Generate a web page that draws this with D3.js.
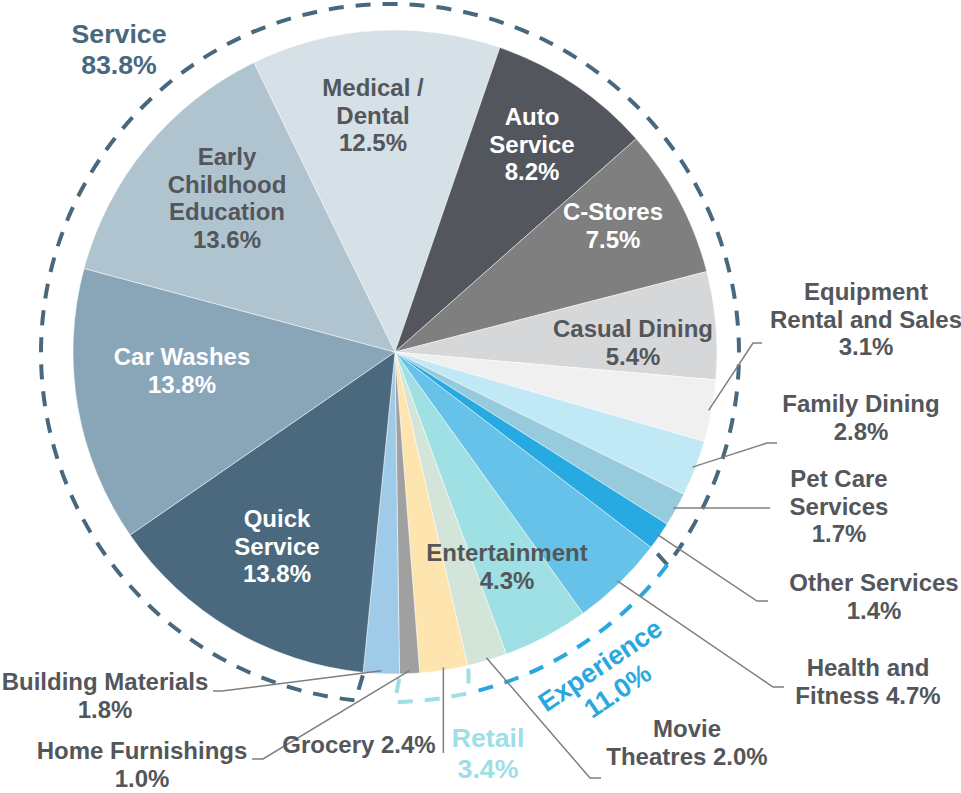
<!DOCTYPE html>
<html>
<head>
<meta charset="utf-8">
<script src="https://cdn.jsdelivr.net/npm/d3@7/dist/d3.min.js"></script>
<style>
  html, body { margin: 0; padding: 0; background: #fff; }
  svg { display: block; font-family: "Liberation Sans", Arial, sans-serif; font-weight: bold; }
</style>
</head>
<body>
<div id="chart"></div>
<script>
// slice order is clockwise, starting with Medical / Dental
const categories = [
  'Medical / Dental', 'Auto Service', 'C-Stores', 'Casual Dining',
  'Equipment Rental and Sales', 'Family Dining', 'Pet Care Services', 'Other Services',
  'Health and Fitness', 'Entertainment', 'Movie Theatres',
  'Grocery', 'Home Furnishings', 'Building Materials',
  'Quick Service', 'Car Washes', 'Early Childhood Education',
];
const shares = [12.5, 8.2, 7.5, 5.4, 3.1, 2.8, 1.7, 1.4, 4.7, 4.3, 2.0, 2.4, 1.0, 1.8, 13.8, 13.8, 13.6];
const sliceColors = [
  '#d5e0e7', '#53565c', '#7f7f7f', '#d6d7d9',
  '#f0f0f0', '#c0e9f5', '#96cadd', '#27a9e1',
  '#66c2e8', '#9ee0e3', '#d3e5d8',
  '#fee4ae', '#a0a0a0', '#a0cbe8',
  '#4a697e', '#89a6b8', '#b0c4d0',
];

const groupNames = ['Service', 'Experience', 'Retail'];
const groupShares = [83.8, 11.0, 3.4];
const groupFirst = ['Quick Service', 'Health and Fitness', 'Grocery'];
const groupLast = ['Other Services', 'Movie Theatres', 'Home Furnishings'];
const groupColors = ['#48687e', '#29a8e0', '#9ddfe5'];

const width = 961;
const height = 793;
const cx = 395;
const cy = 352;
const radius = 322;
const startAngle = (-26 * Math.PI) / 180;
const gray = '#53565a';
const fmt = (v) => `${d3.format('.1f')(v)}%`;

// label placement (first baseline, lines, leader elbows)
const labelLayout = {
  'Medical / Dental': { x: 373, y: 96, lines: ['Medical /', 'Dental'], fill: gray },
  'Auto Service': { x: 532, y: 125, lines: ['Auto', 'Service'], fill: '#fff' },
  'C-Stores': { x: 613, y: 220, lines: ['C-Stores'], fill: '#fff' },
  'Casual Dining': { x: 633, y: 337, lines: ['Casual Dining'], fill: gray },
  'Equipment Rental and Sales': {
    x: 866, y: 300, lines: ['Equipment', 'Rental and Sales'], fill: gray, leader: [[753, 343], [762, 343]],
  },
  'Family Dining': { x: 861, y: 412, lines: ['Family Dining'], fill: gray, leader: [[767, 443], [777, 443]] },
  'Pet Care Services': { x: 839, y: 487, lines: ['Pet Care', 'Services'], fill: gray, leader: [[770, 508]] },
  'Other Services': { x: 874, y: 591, lines: ['Other Services'], fill: gray, leader: [[757, 601], [768, 601]] },
  'Health and Fitness': {
    x: 868, y: 676, lines: ['Health and', 'Fitness'], inline: true, fill: gray, leader: [[773, 687], [784, 687]],
  },
  Entertainment: { x: 507, y: 561, lines: ['Entertainment'], fill: gray },
  'Movie Theatres': {
    x: 687, y: 737, lines: ['Movie', 'Theatres'], inline: true, fill: gray, leader: [[590, 778], [601, 778]],
  },
  Grocery: { x: 359, y: 753, lines: ['Grocery'], inline: true, fill: gray, drop: 753 },
  'Home Furnishings': { x: 142, y: 759, lines: ['Home Furnishings'], fill: gray, leader: [[263, 759], [252, 759]] },
  'Building Materials': { x: 105, y: 690, lines: ['Building Materials'], fill: gray, leader: [[222, 691], [213, 691]] },
  'Quick Service': { x: 277, y: 527, lines: ['Quick', 'Service'], fill: '#fff' },
  'Car Washes': { x: 182, y: 365, lines: ['Car Washes'], fill: '#fff' },
  'Early Childhood Education': { x: 227, y: 165, lines: ['Early', 'Childhood', 'Education'], fill: gray },
};

const svg = d3.select('#chart')
  .append('svg')
  .attr('width', width)
  .attr('height', height)
  .attr('viewBox', [0, 0, width, height]);

const pie = d3.pie()
  .sort(null)
  .value((d) => d)
  .startAngle(startAngle)
  .endAngle(startAngle + 2 * Math.PI);
const arcs = pie(shares);
const arc = d3.arc().innerRadius(0).outerRadius(radius);

svg.append('g')
  .attr('transform', `translate(${cx},${cy})`)
  .selectAll('path')
  .data(arcs)
  .join('path')
  .attr('d', arc)
  .attr('fill', (d, i) => sliceColors[i])
  .attr('stroke', 'rgba(255,255,255,0.6)')
  .attr('stroke-width', 0.8);

const polar = (x0, y0, r, a) => [x0 + r * Math.sin(a), y0 - r * Math.cos(a)];

// group brackets (dashed)
const bx = cx - 5;
const by = cy + 1;
const bracketR = 349;
const withTicks = [true, false, true];
const brackets = svg.append('g').attr('fill', 'none');
groupNames.forEach((name, gi) => {
  const a0 = arcs[categories.indexOf(groupFirst[gi])].startAngle;
  let a1 = arcs[categories.indexOf(groupLast[gi])].endAngle;
  if (a1 < a0) a1 += 2 * Math.PI;
  const p = d3.path();
  const s = polar(bx, by, bracketR, a0);
  if (withTicks[gi]) {
    const si = polar(cx, cy, radius + 3, a0);
    p.moveTo(si[0], si[1]);
    p.lineTo(s[0], s[1]);
  } else {
    p.moveTo(s[0], s[1]);
  }
  p.arc(bx, by, bracketR, a0 - Math.PI / 2, a1 - Math.PI / 2, false);
  if (withTicks[gi]) {
    const ei = polar(cx, cy, radius + 3, a1);
    p.lineTo(ei[0], ei[1]);
  }
  brackets.append('path')
    .attr('d', p.toString())
    .attr('stroke', groupColors[gi])
    .attr('stroke-width', 4)
    .attr('stroke-dasharray', '15 12');
});

// leader lines
const leaders = svg.append('g')
  .attr('fill', 'none')
  .attr('stroke', '#7f7f7f')
  .attr('stroke-width', 1.5);
arcs.forEach((d, i) => {
  const lay = labelLayout[categories[i]];
  if (!lay.leader && !lay.drop) return;
  const mid = (d.startAngle + d.endAngle) / 2;
  const start = polar(cx, cy, radius - 3, mid);
  const pts = lay.drop ? [start, [start[0], lay.drop]] : [start, ...lay.leader];
  leaders.append('path').attr('d', d3.line()(pts));
});

// slice labels
const labels = svg.append('g')
  .attr('font-size', 24)
  .attr('text-anchor', 'middle');
arcs.forEach((d, i) => {
  const lay = labelLayout[categories[i]];
  const lines = lay.lines.slice();
  if (lay.inline) lines[lines.length - 1] += ` ${fmt(shares[i])}`;
  else lines.push(fmt(shares[i]));
  const t = labels.append('text').attr('fill', lay.fill);
  lines.forEach((ln, li) => {
    t.append('tspan').attr('x', lay.x).attr('y', lay.y + li * 27.5).text(ln);
  });
});

// group labels
const groupLabelLayout = [
  { x: 119, y: 43, rotate: 0 },
  { x: 600, y: 665, rotate: -34 },
  { x: 488, y: 747, rotate: 0 },
];
groupNames.forEach((name, gi) => {
  const lay = groupLabelLayout[gi];
  const g = svg.append('g')
    .attr('transform', `translate(${lay.x},${lay.y}) rotate(${lay.rotate})`);
  const t = g.append('text')
    .attr('font-size', 26.7)
    .attr('text-anchor', 'middle')
    .attr('fill', groupColors[gi]);
  const dy0 = lay.rotate ? 9.5 : 0;
  t.append('tspan').attr('x', 0).attr('y', dy0).text(name);
  t.append('tspan').attr('x', 0).attr('y', dy0 + 31).text(fmt(groupShares[gi]));
});
</script>
</body>
</html>
